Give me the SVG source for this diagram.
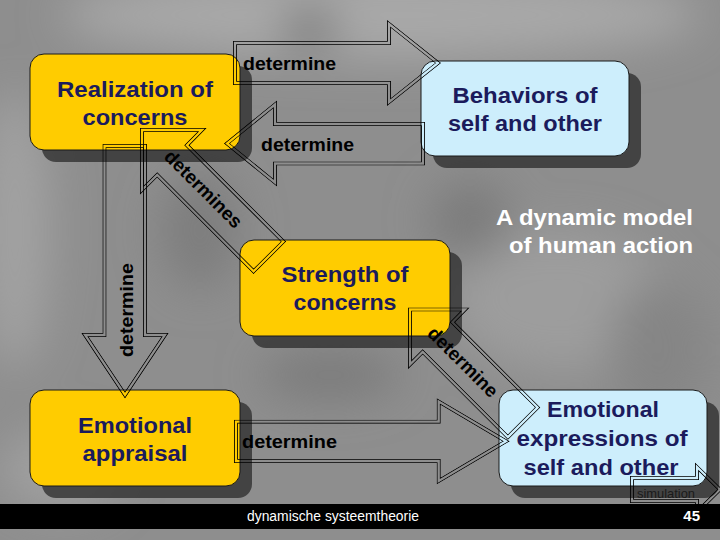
<svg xmlns="http://www.w3.org/2000/svg" xmlns:xlink="http://www.w3.org/1999/xlink" width="720" height="540" viewBox="0 0 720 540">
<defs>
<style>
.bg{fill:#8e8e8e}
.sh{fill:#2e2e2e;fill-opacity:0.78}
.yl{fill:#ffcc00;stroke:#1a1a1a;stroke-width:1}
.bl{fill:#cdeefc;stroke:#1a1a1a;stroke-width:1}
.nt{font-family:"Liberation Sans",Arial,sans-serif;font-weight:bold;font-size:22px;fill:#1b1b5c;text-anchor:middle}
.lb{font-family:"Liberation Sans",Arial,sans-serif;font-weight:bold;font-size:19px;fill:#000}
.ti{font-family:"Liberation Sans",Arial,sans-serif;font-weight:bold;font-size:22px;fill:#fff;text-anchor:end}
.mo{fill:none;stroke:#fff;stroke-width:4.1}
.mi{fill:none;stroke:#000;stroke-width:2.3}
.dbl{fill:none;stroke:#000;stroke-width:4.1}
</style>
<filter id="blur" x="-30%" y="-30%" width="160%" height="160%"><feGaussianBlur stdDeviation="22"/></filter>
<polygon id="pa1" points="235,43 389,43 389,24 438,63 389,102 389,83 235,83"/>
<polygon id="pa2" points="423,124 275,124 275,104.5 227,143.5 275,182.5 275,163.5 423,163.5"/>
<polygon id="pa3" points="104.5,146 145,146 145,335 165,335 125,395 85,335 104.5,335"/>
<polygon id="pa4" points="142,130 202,130 186.9,145.2 283.4,241.6 253.6,271.3 157.2,174.9 142,190"/>
<polygon id="pa5" points="410,309.5 465,309.5 452.4,322.2 537.6,407.4 507.9,437.1 422.7,351.9 410,364.5"/>
<polygon id="pa6" points="236,421.7 438.7,421.7 438.7,401.5 506,441.3 438.7,481 438.7,461 236,461"/>
<polygon id="pa7" points="632,478 697,478 697,467 720,489.5 697,512 697,501 632,501"/>
<mask id="ma1" maskUnits="userSpaceOnUse" x="0" y="0" width="720" height="540"><use xlink:href="#pa1" class="mo"/><use xlink:href="#pa1" class="mi"/></mask>
<mask id="ma2" maskUnits="userSpaceOnUse" x="0" y="0" width="720" height="540"><use xlink:href="#pa2" class="mo"/><use xlink:href="#pa2" class="mi"/></mask>
<mask id="ma3" maskUnits="userSpaceOnUse" x="0" y="0" width="720" height="540"><use xlink:href="#pa3" class="mo"/><use xlink:href="#pa3" class="mi"/></mask>
<mask id="ma4" maskUnits="userSpaceOnUse" x="0" y="0" width="720" height="540"><use xlink:href="#pa4" class="mo"/><use xlink:href="#pa4" class="mi"/></mask>
<mask id="ma5" maskUnits="userSpaceOnUse" x="0" y="0" width="720" height="540"><use xlink:href="#pa5" class="mo"/><use xlink:href="#pa5" class="mi"/></mask>
<mask id="ma6" maskUnits="userSpaceOnUse" x="0" y="0" width="720" height="540"><use xlink:href="#pa6" class="mo"/><use xlink:href="#pa6" class="mi"/></mask>
<mask id="ma7" maskUnits="userSpaceOnUse" x="0" y="0" width="720" height="540"><use xlink:href="#pa7" class="mo"/><use xlink:href="#pa7" class="mi"/></mask>
</defs>

<g id="background">
<rect class="bg" x="0" y="0" width="720" height="540"/>
<g filter="url(#blur)">
<ellipse cx="380" cy="15" rx="320" ry="45" fill="#a8a8a8"/>
<ellipse cx="310" cy="28" rx="28" ry="18" fill="#6e6e6e"/>
<ellipse cx="15" cy="230" rx="35" ry="140" fill="#a2a2a2"/>
<ellipse cx="560" cy="300" rx="110" ry="70" fill="#9d9d9d"/>
<ellipse cx="330" cy="375" rx="70" ry="25" fill="#7a7a7a"/>
<ellipse cx="200" cy="230" rx="40" ry="60" fill="#7e7e7e"/>
<ellipse cx="470" cy="220" rx="40" ry="40" fill="#7c7c7c"/>
<ellipse cx="660" cy="350" rx="50" ry="70" fill="#858585"/>
<ellipse cx="60" cy="470" rx="60" ry="40" fill="#a0a0a0"/>
</g>
</g>

<g id="node-realization">
<rect class="sh" x="42" y="66" width="210" height="96" rx="14"/>
<rect class="yl" x="30" y="54" width="210" height="96" rx="14"/>
<text class="nt" x="135" y="96.5" textLength="156" lengthAdjust="spacingAndGlyphs">Realization of</text>
<text class="nt" x="135" y="125" textLength="105" lengthAdjust="spacingAndGlyphs">concerns</text>
</g>

<g id="node-behaviors">
<rect class="sh" x="433" y="73" width="208" height="95" rx="14"/>
<rect class="bl" x="421" y="61" width="208" height="95" rx="14"/>
<text class="nt" x="525" y="103" textLength="145" lengthAdjust="spacingAndGlyphs">Behaviors of</text>
<text class="nt" x="525" y="131" textLength="154" lengthAdjust="spacingAndGlyphs">self and other</text>
</g>

<g id="node-strength">
<rect class="sh" x="252" y="252" width="210" height="96" rx="14"/>
<rect class="yl" x="240" y="240" width="210" height="96" rx="14"/>
<text class="nt" x="345" y="282" textLength="127" lengthAdjust="spacingAndGlyphs">Strength of</text>
<text class="nt" x="345" y="310" textLength="103" lengthAdjust="spacingAndGlyphs">concerns</text>
</g>

<g id="node-appraisal">
<rect class="sh" x="42" y="402" width="210" height="96" rx="14"/>
<rect class="yl" x="30" y="390" width="210" height="96" rx="14"/>
<text class="nt" x="135" y="433" textLength="114" lengthAdjust="spacingAndGlyphs">Emotional</text>
<text class="nt" x="135" y="461" textLength="105" lengthAdjust="spacingAndGlyphs">appraisal</text>
</g>

<g id="node-expressions">
<rect class="sh" x="511" y="402" width="208" height="96" rx="14"/>
<rect class="bl" x="499" y="390" width="208" height="96" rx="14"/>
<text class="nt" x="603" y="417" textLength="112" lengthAdjust="spacingAndGlyphs">Emotional</text>
<text class="nt" x="602" y="446" textLength="171" lengthAdjust="spacingAndGlyphs">expressions of</text>
<text class="nt" x="601" y="475" textLength="155" lengthAdjust="spacingAndGlyphs">self and other</text>
</g>

<g id="title">
<text class="ti" x="693" y="225" textLength="197" lengthAdjust="spacingAndGlyphs">A dynamic model</text>
<text class="ti" x="693" y="253" textLength="184" lengthAdjust="spacingAndGlyphs">of human action</text>
</g>

<g id="connectors">
<use xlink:href="#pa1" class="dbl" mask="url(#ma1)"/>
<text class="lb" x="243" y="70" textLength="93" lengthAdjust="spacingAndGlyphs">determine</text>
<use xlink:href="#pa2" class="dbl" mask="url(#ma2)"/>
<text class="lb" x="261" y="151" textLength="93" lengthAdjust="spacingAndGlyphs">determine</text>
<use xlink:href="#pa3" class="dbl" mask="url(#ma3)"/>
<text class="lb" transform="translate(133,310) rotate(-90)" text-anchor="middle" textLength="94" lengthAdjust="spacingAndGlyphs">determine</text>
<use xlink:href="#pa4" class="dbl" mask="url(#ma4)"/>
<text class="lb" transform="translate(203.5,189) rotate(45)" text-anchor="middle" dy="6.5">determines</text>
<use xlink:href="#pa5" class="dbl" mask="url(#ma5)"/>
<text class="lb" transform="translate(463,362) rotate(45)" text-anchor="middle" dy="6.5">determine</text>
<use xlink:href="#pa6" class="dbl" mask="url(#ma6)"/>
<text class="lb" x="242" y="448" textLength="95" lengthAdjust="spacingAndGlyphs">determine</text>
<use xlink:href="#pa7" class="dbl" mask="url(#ma7)"/>
<text x="637" y="498" font-family="'Liberation Sans',Arial,sans-serif" font-size="13" fill="#1a1a1a" textLength="58" lengthAdjust="spacingAndGlyphs">simulation</text>
</g>

<g id="footer">
<rect x="0" y="504" width="720" height="25" fill="#000"/>
<text x="333" y="521" font-family="'Liberation Sans',Arial,sans-serif" font-size="14" fill="#fff" text-anchor="middle" textLength="172" lengthAdjust="spacingAndGlyphs">dynamische systeemtheorie</text>
<text x="700" y="521" font-family="'Liberation Sans',Arial,sans-serif" font-size="15" font-weight="bold" fill="#fff" text-anchor="end">45</text>
</g>
</svg>
